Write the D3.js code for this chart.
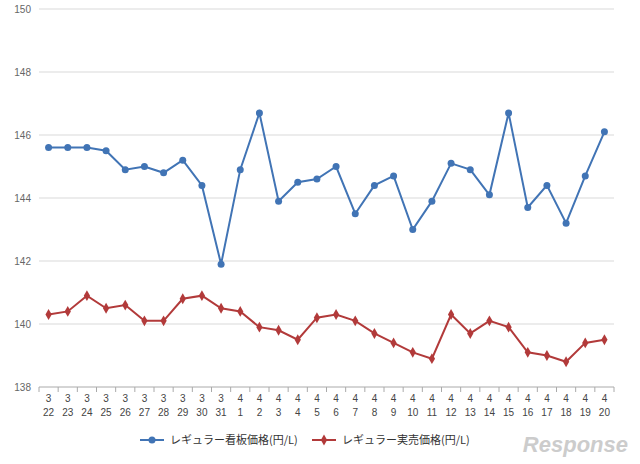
<!DOCTYPE html><html><head><meta charset="utf-8"><script src="https://cdn.jsdelivr.net/npm/d3@7"></script>
<style>body{margin:0;background:#fff}</style></head><body><svg width="640" height="464"></svg><script>
const months=["3","3","3","3","3","3","3","3","3","3","4","4","4","4","4","4","4","4","4","4","4","4","4","4","4","4","4","4","4","4"];
const days=["22","23","24","25","26","27","28","29","30","31","1","2","3","4","5","6","7","8","9","10","11","12","13","14","15","16","17","18","19","20"];
const signPrice=[145.6,145.6,145.6,145.5,144.9,145.0,144.8,145.2,144.4,141.9,144.9,146.7,143.9,144.5,144.6,145.0,143.5,144.4,144.7,143.0,143.9,145.1,144.9,144.1,146.7,143.7,144.4,143.2,144.7,146.1];
const salePrice=[140.3,140.4,140.9,140.5,140.6,140.1,140.1,140.8,140.9,140.5,140.4,139.9,139.8,139.5,140.2,140.3,140.1,139.7,139.4,139.1,138.9,140.3,139.7,140.1,139.9,139.1,139.0,138.8,139.4,139.5];
const yTicks=[138,140,142,144,146,148,150];
const seriesNames=["レギュラー看板価格(円/L)","レギュラー実売価格(円/L)"];
const colors=["#4174b5","#b23a3a"];
const svg=d3.select("svg");
const L=39,R=614,T=9,B=387;
const x=d3.scaleBand().domain(d3.range(30)).range([L,R]);
const y=d3.scaleLinear().domain([138,150]).range([B,T]);
const f="Liberation Sans, Arial, sans-serif";
svg.append("g").selectAll("line").data(yTicks.slice(1)).join("line").attr("x1",L).attr("x2",R).attr("y1",d=>y(d)).attr("y2",d=>y(d)).attr("stroke","#d9d9d9");
svg.append("g").selectAll("text").data(yTicks).join("text").attr("x",L-8).attr("y",d=>y(d)+4).attr("text-anchor","end").attr("font-family",f).attr("font-size",10).attr("fill","#666").text(d=>d);
svg.append("line").attr("x1",L).attr("x2",R).attr("y1",B).attr("y2",B).attr("stroke","#aaa");
svg.append("g").selectAll("line").data(d3.range(31)).join("line").attr("x1",i=>L+i*x.bandwidth()).attr("x2",i=>L+i*x.bandwidth()).attr("y1",B).attr("y2",B+5).attr("stroke","#aaa");
const xl=svg.append("g").selectAll("g").data(d3.range(30)).join("g").attr("transform",i=>`translate(${x(i)+x.bandwidth()/2},0)`);
xl.append("text").attr("y",B+15).attr("text-anchor","middle").attr("font-family",f).attr("font-size",10).attr("fill","#444").text(i=>months[i]);
xl.append("text").attr("y",B+29).attr("text-anchor","middle").attr("font-family",f).attr("font-size",10).attr("fill","#444").text(i=>days[i]);
const line=d3.line().x((d,i)=>x(i)+x.bandwidth()/2).y(d=>y(d));
svg.append("path").attr("d",line(signPrice)).attr("fill","none").attr("stroke",colors[0]).attr("stroke-width",2);
svg.append("path").attr("d",line(salePrice)).attr("fill","none").attr("stroke",colors[1]).attr("stroke-width",2);
svg.append("g").selectAll("circle").data(signPrice).join("circle").attr("cx",(d,i)=>x(i)+x.bandwidth()/2).attr("cy",d=>y(d)).attr("r",3.5).attr("fill",colors[0]);
svg.append("g").selectAll("path").data(salePrice).join("path").attr("d",d3.symbol(d3.symbolDiamond,34)).attr("transform",(d,i)=>`translate(${x(i)+x.bandwidth()/2},${y(d)})`).attr("fill",colors[1]);
const lg=svg.append("g").attr("transform","translate(0,440)");
[[140,0],[312,1]].forEach(([lx,k])=>{
 lg.append("line").attr("x1",lx).attr("x2",lx+24).attr("stroke",colors[k]).attr("stroke-width",2);
 if(k==0)lg.append("circle").attr("cx",lx+12).attr("r",3.5).attr("fill",colors[0]);
 else lg.append("path").attr("d",d3.symbol(d3.symbolDiamond,34)).attr("transform",`translate(${lx+12},0)`).attr("fill",colors[1]);
 lg.append("text").attr("x",lx+30).attr("y",4).attr("font-family","Noto Sans CJK JP").attr("font-size",11).attr("fill","#333").text(seriesNames[k]);
});
svg.append("text").attr("x",628).attr("y",452).attr("text-anchor","end").attr("font-family",f).attr("font-style","italic").attr("font-weight","bold").attr("font-size",22).attr("fill","#ccc").text("Response");
</script></body></html>
